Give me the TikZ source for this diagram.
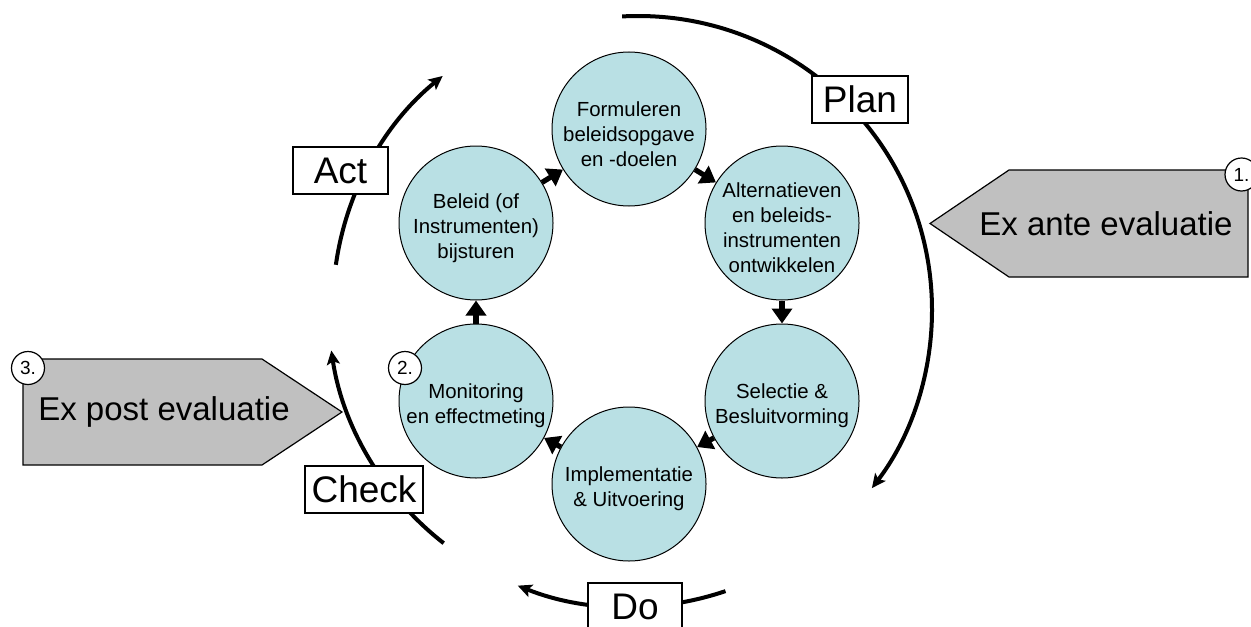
\documentclass[tikz,border=0pt]{standalone}
\usepackage{fontspec}
\setmainfont{Liberation Sans}
\usetikzlibrary{arrows.meta}
\definecolor{stepblue}{RGB}{185,224,228}
\definecolor{evalgray}{RGB}{192,192,192}
\newcommand*{\phasestrut}{\rule{0pt}{12.5pt}}

\tikzset{
  phase/.style={circle, draw, line width=0.5pt, fill=stepblue, minimum size=77pt, inner sep=-3pt, align=center, font=\fontsize{10.2}{12.5}\selectfont},
  flow/.style={line width=2.6pt, -{Triangle[length=7.5pt,width=10pt]}},
  cyc/.style={line width=2pt, -{Stealth[length=7pt,width=6.5pt,inset=1.5pt]}},
  pdca/.style={draw, fill=white, line width=0.6pt, minimum height=23.5pt, inner sep=0pt, font=\fontsize{18.5}{22}\selectfont},
  evalshape/.style={draw, fill=evalgray, line width=0.6pt},
  evaltext/.style={font=\fontsize{16.5}{20}\selectfont},
  num/.style={circle, draw, fill=white, line width=0.6pt, minimum size=16.5pt, inner sep=0pt, font=\fontsize{9.5}{11}\selectfont}
}

\begin{document}
\begin{tikzpicture}[x=0.5pt, y=0.5pt]
\useasboundingbox (0,0) rectangle (1251,-626);

\coordinate (ctr) at (629,-306);
\coordinate (ctrplan) at (638,-310);

% PDCA cycle
\draw[cyc] ([shift={(93.1:294)}]ctrplan) arc[start angle=93.1, end angle=-37.3, radius=294];
\draw[cyc] ([shift={(288.7:301)}]ctr) arc[start angle=288.7, end angle=248.3, radius=301];
\draw[cyc] ([shift={(232:301)}]ctr) arc[start angle=232, end angle=188.5, radius=301];
\draw[cyc] ([shift={(172:296)}]ctr) arc[start angle=172, end angle=129, radius=296];

\node (plan) [pdca, minimum width=48pt] at (860,-99.5) {Plan};
\node (act) [pdca, minimum width=47.5pt] at (340.5,-170.5) {Act};
\node (check) [pdca, minimum width=59pt] at (364,-489.5) {Check};
\node (do) [pdca, minimum width=47pt] at (635,-606.5) {Do};

% beleidscyclus
\node (form) [phase] at (629,-129) {\phasestrut Formuleren\\beleidsopgave\\en -doelen};
\node (alt) [phase] at (782,-223) {\phasestrut Alternatieven\\en beleids-\\instrumenten\\ontwikkelen};
\node (sel) [phase] at (782,-401) {\phasestrut Selectie \&\\Besluitvorming};
\node (impl) [phase] at (629,-484) {\phasestrut Implementatie\\\& Uitvoering};
\node (mon) [phase] at (476,-401) {\phasestrut Monitoring\\en effectmeting};
\node (bel) [phase] at (476,-223) {\phasestrut Beleid (of\\Instrumenten)\\bijsturen};

\draw[flow] (form) -- (alt);
\draw[flow] (alt) -- (sel);
\draw[flow] (sel) -- (impl);
\draw[flow] (impl) -- (mon);
\draw[flow] (mon) -- (bel);
\draw[flow] (bel) -- (form);

% evaluaties
\draw[evalshape] (930,-223.5) -- (1009,-170) -- (1248,-170) -- (1248,-277) -- (1009,-277) -- cycle;
\node (exante) [evaltext] at (1106,-223.5) {Ex ante evaluatie};
\draw[evalshape] (23,-359) -- (262,-359) -- (342,-412) -- (262,-465) -- (23,-465) -- cycle;
\node (expost) [evaltext] at (164,-412) {Ex post evaluatie};

\node (n1) [num] at (1241.5,-174.5) {1.};
\node (n2) [num] at (405,-368) {2.};
\node (n3) [num] at (28,-368) {3.};

\end{tikzpicture}
\end{document}
